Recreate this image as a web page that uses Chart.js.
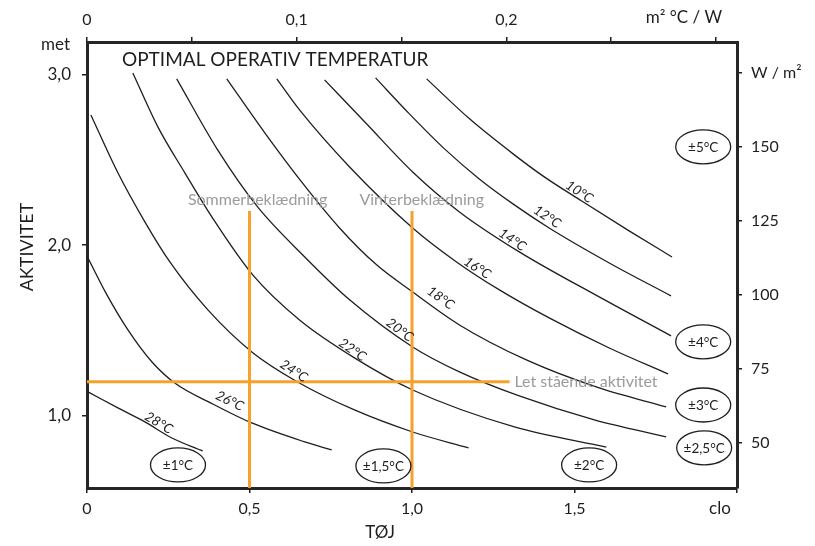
<!DOCTYPE html>
<html>
<head>
<meta charset="utf-8">
<script src="https://cdn.jsdelivr.net/npm/chart.js@4.4.0/dist/chart.umd.min.js"></script>
<style>
  html, body { margin: 0; padding: 0; background: #fff; }
</style>
</head>
<body>
<canvas id="chart" width="815" height="546"></canvas>
<script>
// kurverne: clo (x) og met (y)
var clo10 = [1.045, 1.177, 1.315, 1.407, 1.521, 1.668, 1.800];
var met10 = [2.974, 2.740, 2.529, 2.400, 2.260, 2.084, 1.931];
var clo12 = [0.888, 0.992, 1.100, 1.207, 1.315, 1.422, 1.607, 1.797];
var met12 = [2.980, 2.769, 2.564, 2.388, 2.236, 2.101, 1.896, 1.703];
var clo14 = [0.731, 0.860, 1.002, 1.146, 1.330, 1.576, 1.797];
var met14 = [2.968, 2.711, 2.429, 2.195, 1.961, 1.697, 1.469];
var clo16 = [0.584, 0.654, 0.808, 1.002, 1.137, 1.269, 1.422, 1.607, 1.788];
var met16 = [2.974, 2.792, 2.458, 2.101, 1.902, 1.738, 1.574, 1.398, 1.246];
var clo18 = [0.430, 0.547, 0.670, 0.777, 0.891, 1.002, 1.146, 1.352, 1.576, 1.782];
var met18 = [2.974, 2.658, 2.347, 2.101, 1.885, 1.726, 1.533, 1.328, 1.164, 1.053];
var clo20 = [0.276, 0.402, 0.525, 0.670, 0.808, 1.002, 1.146, 1.330, 1.561, 1.782];
var met20 = [2.974, 2.558, 2.224, 1.931, 1.680, 1.404, 1.258, 1.117, 0.977, 0.877];
var clo22 = [0.141, 0.218, 0.301, 0.384, 0.510, 0.654, 0.823, 1.002, 1.315, 1.598];
var met22 = [3.009, 2.693, 2.424, 2.166, 1.826, 1.562, 1.340, 1.152, 0.936, 0.818];
var clo24 = [0.012, 0.095, 0.178, 0.255, 0.372, 0.507, 0.648, 0.823, 1.002, 1.174];
var met24 = [2.763, 2.424, 2.137, 1.902, 1.621, 1.375, 1.199, 1.035, 0.906, 0.813];
var clo26 = [0.000, 0.058, 0.126, 0.200, 0.270, 0.387, 0.507, 0.670, 0.753];
var met26 = [1.937, 1.721, 1.504, 1.316, 1.193, 1.070, 0.959, 0.848, 0.801];
var clo28 = [0.003, 0.095, 0.178, 0.261, 0.356];
var met28 = [1.141, 1.047, 0.965, 0.871, 0.795];

var curveNames = ['10°C', '12°C', '14°C', '16°C', '18°C', '20°C', '22°C', '24°C', '26°C', '28°C'];
var curveClo = [clo10, clo12, clo14, clo16, clo18, clo20, clo22, clo24, clo26, clo28];
var curveMet = [met10, met12, met14, met16, met18, met20, met22, met24, met26, met28];
// hvor temperatur-teksten sidder (clo, met)
var nameClo = [1.515, 1.416, 1.309, 1.201, 1.088, 0.962, 0.817, 0.636, 0.439, 0.221];
var nameMet = [2.312, 2.166, 2.031, 1.867, 1.691, 1.504, 1.387, 1.264, 1.088, 0.959];

// orange hjælpelinjer
var sommerClo = [0.5, 0.5];
var vinterClo = [1.0, 1.0];
var kladMet = [0.578, 2.2];
var staaendeClo = [0, 1.3];
var staaendeMet = [1.2, 1.2];

// tolerancer
var tolText = ['±5°C', '±4°C', '±3°C', '±2,5°C', '±2°C', '±1,5°C', '±1°C'];
var tolClo = [1.896, 1.896, 1.896, 1.899, 1.545, 0.912, 0.280];
var tolMet = [2.576, 1.434, 1.064, 0.813, 0.713, 0.707, 0.713];

// akser
var cloTicks = [0, 0.5, 1, 1.5, 2];
var cloLabels = ['0', '0,5', '1,0', '1,5', ''];
var metTicks = [1, 2, 3];
var metLabels = ['1,0', '2,0', '3,0'];
var wTicks = [50, 75, 100, 125, 150, 175];
var wLabels = ['50', '75', '100', '125', '150', 'W / m²'];
var rTicks = [0, 0.05, 0.1, 0.15, 0.2, 0.25, 0.3];
var rLabels = ['0', '', '0,1', '', '0,2', '', ''];

var FONT = 'Lato, "Open Sans", sans-serif';
var INK = '#1e1e1e';
var ORANGE = '#f6a12b';

function pts(xs, ys) {
    return xs.map(function (x, i) { return { x: x, y: ys[i] }; });
}

var datasets = [
    { data: pts(sommerClo, kladMet), borderColor: ORANGE, borderWidth: 3 },
    { data: pts(vinterClo, kladMet), borderColor: ORANGE, borderWidth: 3 },
    { data: pts(staaendeClo, staaendeMet), borderColor: ORANGE, borderWidth: 3 }
];
curveNames.forEach(function (n, i) {
    datasets.push({
        label: n,
        data: pts(curveClo[i], curveMet[i]),
        borderColor: INK,
        borderWidth: 1.3,
        cubicInterpolationMode: 'monotone'
    });
});
datasets.forEach(function (d) {
    d.showLine = true;
    d.pointRadius = 0;
    d.pointHoverRadius = 0;
});

function fixedTicks(list) {
    return function (axis) { axis.ticks = list.map(function (v) { return { value: v }; }); };
}
function tickText(list) {
    return function (value, index) { return list[index]; };
}
var axisStyle = {
    grid: { display: true, drawOnChartArea: false, drawTicks: true, tickLength: 5, color: INK, lineWidth: 1.5 },
    border: { display: true, width: 3, color: '#262626' }
};

// tekster, ellipser og etiketter
var annotations = {
    id: 'annotations',
    afterDatasetsDraw: function (chart) {
        var c = chart.ctx, xs = chart.scales.x, ys = chart.scales.y, a = chart.chartArea;
        c.save();

        // grå tekster
        c.fillStyle = '#9b9b9b';
        c.font = '16px ' + FONT;
        c.textBaseline = 'middle';
        c.textAlign = 'center';
        c.fillText('Sommerbeklædning', xs.getPixelForValue(0.525), ys.getPixelForValue(2.265));
        c.fillText('Vinterbeklædning', xs.getPixelForValue(1.03), ys.getPixelForValue(2.265));
        c.textAlign = 'left';
        c.fillText('Let stående aktivitet', xs.getPixelForValue(1.315), ys.getPixelForValue(1.2));

        // temperatur på kurverne
        c.fillStyle = INK;
        c.font = 'italic 13.5px ' + FONT;
        c.textAlign = 'center';
        curveNames.forEach(function (n, i) {
            var cx = curveClo[i], cy = curveMet[i], k = 1;
            while (k < cx.length - 1 && cx[k] < nameClo[i]) k++;
            var dx = xs.getPixelForValue(cx[k]) - xs.getPixelForValue(cx[k - 1]);
            var dy = ys.getPixelForValue(cy[k]) - ys.getPixelForValue(cy[k - 1]);
            c.save();
            c.translate(xs.getPixelForValue(nameClo[i]), ys.getPixelForValue(nameMet[i]));
            c.rotate(Math.atan2(dy, dx));
            c.fillText(n, 0, 0);
            c.restore();
        });

        // tolerance-ellipser
        c.font = '13.5px ' + FONT;
        c.lineWidth = 1.3;
        c.strokeStyle = INK;
        tolText.forEach(function (t, i) {
            var px = xs.getPixelForValue(tolClo[i]), py = ys.getPixelForValue(tolMet[i]);
            c.beginPath();
            c.ellipse(px, py, 27.5, 17, 0, 0, Math.PI * 2);
            c.fillStyle = '#fff';
            c.fill();
            c.stroke();
            c.fillStyle = INK;
            c.fillText(t, px, py + 1);
        });

        // titel
        c.font = '19px ' + FONT;
        c.textAlign = 'left';
        c.fillText('OPTIMAL OPERATIV TEMPERATUR', a.left + 35, a.top + 18);

        // aksetekster
        c.font = '17px ' + FONT;
        c.textAlign = 'right';
        c.fillText('met', 70, 45);
        c.textAlign = 'center';
        c.fillText('clo', 720, 509);
        c.fillText('TØJ', 380, 533);
        c.fillText('m² °C / W', 684, 18);
        c.save();
        c.translate(27, 247);
        c.rotate(-Math.PI / 2);
        c.font = '18px ' + FONT;
        c.fillText('AKTIVITET', 0, 0);
        c.restore();

        c.restore();
    }
};

var tickFont = { family: FONT, size: 16 };

new Chart(document.getElementById('chart'), {
    type: 'scatter',
    data: { datasets: datasets },
    options: {
        responsive: false,
        animation: false,
        layout: { padding: 0 },
        plugins: { legend: { display: false }, tooltip: { enabled: false } },
        scales: {
            x: Object.assign({
                type: 'linear', position: 'bottom', min: 0, max: 2.0,
                afterBuildTicks: fixedTicks(cloTicks),
                afterFit: function (s) { s.height = 58; },
                ticks: { callback: tickText(cloLabels), font: tickFont, color: INK, padding: 6, maxRotation: 0 }
            }, axisStyle),
            x2: Object.assign({
                type: 'linear', position: 'top', min: 0, max: 0.31,
                afterBuildTicks: fixedTicks(rTicks),
                afterFit: function (s) { s.height = 42; },
                ticks: { callback: tickText(rLabels), font: tickFont, color: INK, padding: 8, maxRotation: 0 }
            }, axisStyle),
            y: Object.assign({
                type: 'linear', position: 'left', min: 0.578, max: 3.19,
                afterBuildTicks: fixedTicks(metTicks),
                afterFit: function (s) { s.width = 87; },
                ticks: { callback: tickText(metLabels), font: { family: FONT, size: 17 }, color: INK, padding: 11 }
            }, axisStyle),
            y2: Object.assign({
                type: 'linear', position: 'right', min: 34.8, max: 185.5,
                afterBuildTicks: fixedTicks(wTicks),
                afterFit: function (s) { s.width = 78; },
                ticks: { callback: tickText(wLabels), font: tickFont, color: INK, padding: 9 }
            }, axisStyle)
        }
    },
    plugins: [annotations]
});
</script>
</body>
</html>
